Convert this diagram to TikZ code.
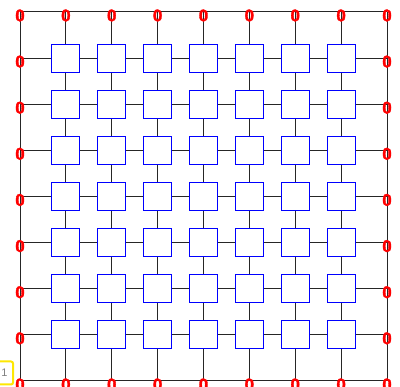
\documentclass[tikz,border=0pt]{standalone}
\usepackage{fontspec}
\setmainfont{Liberation Sans}
\newfontfamily\zerofont[FakeBold=2]{Liberation Sans Bold}
\usetikzlibrary{backgrounds}
\tikzset{
  boxnode/.style={draw=blue, fill=white, line width=1pt, minimum size=28pt, inner sep=0pt},
  rimnode/.style={inner sep=0pt, minimum size=0pt},
  zerolbl/.style={text=red, font=\zerofont\fontsize{17}{17}\selectfont, inner sep=0pt, yshift=-3.5pt},
  wire/.style={draw=black!85, line width=1pt},
  tagbox/.style={draw=yellow!90!orange, line width=2pt, rounded corners=2pt, minimum width=17pt, minimum height=23pt, inner sep=0pt, text=gray, font=\fontsize{11}{11}\selectfont}
}
\begin{document}
\begin{tikzpicture}[x=1pt,y=-1pt]
\useasboundingbox (0,0) rectangle (400,387);
\foreach \i in {0,...,8}{
  \foreach \j in {0,...,8}{
    \pgfmathsetmacro{\xx}{20+\i*45.875}
    \pgfmathsetmacro{\yy}{12+\j*46.125}
    \pgfmathtruncatemacro{\border}{(\i==0)||(\i==8)||(\j==0)||(\j==8)}
    \ifnum\border=1
      \node[rimnode, label={[zerolbl]center:0}] (n-\i-\j) at (\xx,\yy) {};
    \else
      \node[boxnode] (n-\i-\j) at (\xx,\yy) {};
    \fi
  }
}
\begin{scope}[on background layer]
\foreach \i in {0,...,8}{
  \foreach \j [evaluate=\j as \jn using int(\j+1)] in {0,...,7}{
    \draw[wire] (n-\i-\j.center) -- (n-\i-\jn.center);
    \draw[wire] (n-\j-\i.center) -- (n-\jn-\i.center);
  }
}
\end{scope}
\node[tagbox] (tag) at (4.5,373) {1};
\end{tikzpicture}
\end{document}
